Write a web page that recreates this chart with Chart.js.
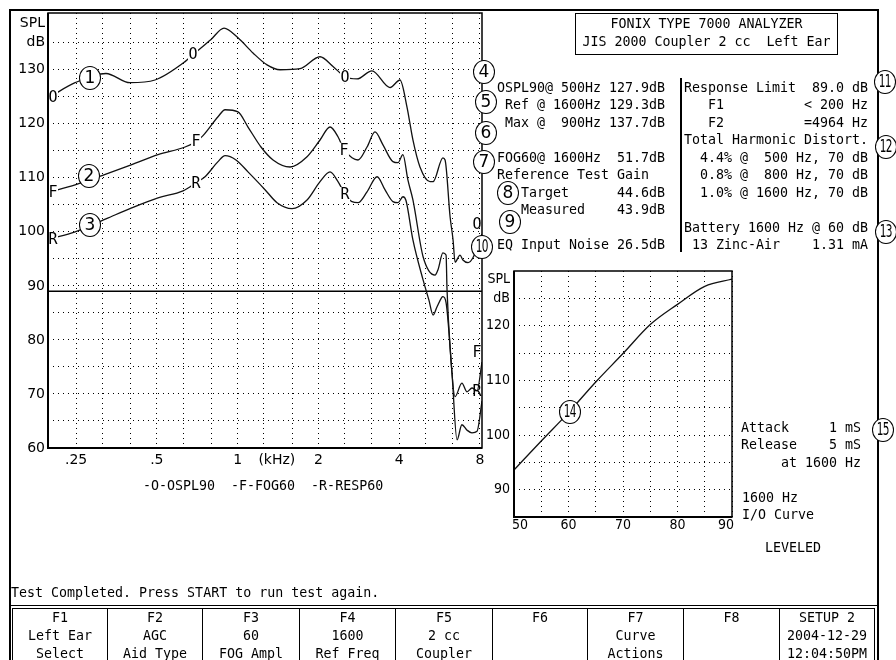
<!DOCTYPE html>
<html>
<head>
<meta charset="utf-8">
<script src="https://cdn.jsdelivr.net/npm/chart.js@4.4.1/dist/chart.umd.min.js"></script>
<style>
  body { margin: 0; width: 896px; height: 660px; overflow: hidden; background: #fff; position: relative; color: #000; }
  canvas { position: absolute; }
  .t { position: absolute; margin: 0; font: 13.3px/17.5px "DejaVu Sans Mono", monospace; white-space: pre; }
  .ln { position: absolute; background: #000; }
  .c { position: absolute; box-sizing: border-box; width: 22px; height: 24px; border: 1.4px solid #000; border-radius: 50%;
       background: #fff; text-align: center; font: 17px/21px "DejaVu Sans", sans-serif; }
  .c span { display: inline-block; }
  .c.two span { transform: scaleX(0.62); letter-spacing: -1px; }
  .key { position: absolute; top: 608px; height: 52px; box-sizing: border-box; border-left: 1.5px solid #000; border-top: 1.5px solid #000;
         text-align: center; font: 13.3px/18px "DejaVu Sans Mono", monospace; white-space: pre; }
</style>
</head>
<body>
<!-- outer frame and boxes -->
<div class="ln" style="left:9px;top:9px;width:870px;height:1.5px"></div>
<div class="ln" style="left:9px;top:9px;width:1.5px;height:651px"></div>
<div class="ln" style="left:877px;top:9px;width:1.5px;height:651px"></div>
<div class="ln" style="left:9px;top:605px;width:870px;height:1px"></div>
<div style="position:absolute;left:575px;top:13px;width:263px;height:42px;box-sizing:border-box;border:1.5px solid #000"></div>
<div class="ln" style="left:680px;top:78px;width:1.5px;height:174px"></div>

<canvas id="main" width="896" height="660" style="left:0;top:0"></canvas>
<canvas id="io" width="290" height="300" style="left:460px;top:250px"></canvas>

<pre class="t" style="left:575px;top:15px;width:263px;text-align:center">FONIX TYPE 7000 ANALYZER
JIS 2000 Coupler 2 cc  Left Ear</pre>

<pre class="t" style="left:497px;top:78.5px">OSPL90@ 500Hz 127.9dB
 Ref @ 1600Hz 129.3dB
 Max @  900Hz 137.7dB

FOG60@ 1600Hz  51.7dB
Reference Test Gain
   Target      44.6dB
   Measured    43.9dB

EQ Input Noise 26.5dB</pre>

<pre class="t" style="left:684px;top:78.5px">Response Limit  89.0 dB
   F1          &lt; 200 Hz
   F2          =4964 Hz
Total Harmonic Distort.
  4.4% @  500 Hz, 70 dB
  0.8% @  800 Hz, 70 dB
  1.0% @ 1600 Hz, 70 dB

Battery 1600 Hz @ 60 dB
 13 Zinc-Air    1.31 mA</pre>

<pre class="t" style="left:741px;top:418.5px">Attack     1 mS
Release    5 mS
     at 1600 Hz</pre>
<pre class="t" style="left:742px;top:488.5px">1600 Hz
I/O Curve</pre>
<pre class="t" style="left:765px;top:538.5px">LEVELED</pre>
<pre class="t" style="left:143px;top:476.5px">-O-OSPL90  -F-FOG60  -R-RESP60</pre>
<pre class="t" style="left:11px;top:583.5px">Test Completed. Press START to run test again.</pre>

<div id="keys"></div>
<div id="circles"></div>

<script>
// ---- frequency response (kHz, dB SPL) ----
const osplFreq = [0.2, 0.248, 0.323, 0.397, 0.492, 0.637, 0.682, 0.796, 0.89, 1.003, 1.141, 1.287, 1.439, 1.708, 2.028,
  2.267, 2.513, 2.785, 3.167, 3.697, 4.028, 4.277, 4.5, 4.78, 5.21, 5.35, 5.82, 5.93, 6.19, 6.35, 6.46, 6.74, 6.91, 7.22, 7.53, 8.14];
const osplDb = [125.0, 127.6, 129.3, 127.6, 128.1, 131.5, 132.8, 135.6, 137.7, 135.9, 133.1, 130.9, 130.0, 130.2, 132.4,
  130.6, 128.7, 128.3, 129.8, 126.7, 128.1, 123.1, 117.0, 112.0, 109.3, 109.3, 113.7, 113.3, 102.8, 98.5, 94.4, 95.7, 94.8, 94.3, 95.2, 99.6];
const osplMarks = [0.2, 0.682, 2.513, 8.14];

const fogFreq = [0.2, 0.248, 0.323, 0.401, 0.505, 0.637, 0.70, 0.743, 0.845, 0.898, 1.003, 1.093, 1.222, 1.355, 1.568,
  1.814, 2.028, 2.21, 2.366, 2.49, 2.668, 2.81, 3.035, 3.25, 3.48, 3.79, 3.96, 4.13, 4.31, 4.5, 4.91, 5.44, 5.58, 5.82, 5.98,
  6.03, 6.19, 6.46, 6.85, 7.16, 7.47, 7.8, 8.14];
const fogDb = [107.4, 108.7, 110.7, 112.4, 114.3, 115.7, 116.7, 117.8, 121.3, 122.6, 122.2, 119.4, 115.7, 113.3, 112.0,
  113.9, 117.0, 119.4, 117.6, 115.2, 113.7, 113.3, 115.7, 118.5, 116.1, 113.0, 112.8, 114.3, 109.6, 105.9, 95.4, 92.0, 93.0, 96.1, 95.7,
  89.3, 78.7, 69.5, 72.0, 70.4, 71.1, 70.6, 75.9];
const fogMarks = [0.2, 0.70, 2.49, 8.14];

const respFreq = [0.2, 0.248, 0.323, 0.401, 0.505, 0.626, 0.70, 0.756, 0.845, 0.898, 0.986, 1.093, 1.265, 1.402, 1.595,
  1.814, 2.028, 2.21, 2.366, 2.513, 2.668, 2.81, 3.035, 3.31, 3.54, 3.79, 3.96, 4.13, 4.24, 4.5, 4.91, 5.16, 5.35, 5.53, 5.75,
  5.82, 5.98, 6.29, 6.57, 6.85, 7.16, 7.47, 7.8, 8.14];
const respDb = [98.7, 100.0, 102.4, 104.4, 106.3, 107.6, 109.1, 110.2, 113.0, 114.1, 113.3, 111.1, 107.8, 105.4, 104.3,
  105.9, 109.3, 111.1, 109.3, 107.0, 105.6, 105.4, 107.4, 110.2, 107.8, 105.6, 105.4, 106.5, 105.8, 98.5, 91.1, 87.4, 84.6, 86.1, 87.8,
  88.0, 86.9, 73.9, 61.5, 64.3, 63.3, 62.8, 63.1, 68.7];
const respMarks = [0.2, 0.70, 2.513, 8.14];

const limitDb = 89.0;
const freqMin = 0.1965, freqMax = 8.14;
const freqGrid = [0.25, 0.315, 0.4, 0.5, 0.63, 0.8, 1, 1.25, 1.4, 1.6, 2, 2.5, 3.15, 4, 5, 6.3, 8];
const freqLabels = { 0.25: ".25", 0.5: ".5", 1: "1", 1.4: "(kHz)", 2: "2", 4: "4", 8: "8" };
const splTicks = [60, 65, 70, 75, 80, 85, 90, 95, 100, 105, 110, 115, 120, 125, 130, 135, 138.5];
const splLabels = { 60: "60", 70: "70", 80: "80", 90: "90", 100: "100", 110: "110", 120: "120", 130: "130", 135: "dB", 138.5: "SPL" };

// ---- I/O curve at 1600 Hz ----
const ioInput = [50, 55, 60, 65, 70, 75, 80, 85, 90];
const ioOutput = [93.6, 98.9, 104.1, 109.7, 114.9, 120.2, 123.9, 127.2, 128.5];
const ioXTicks = [50, 55, 60, 65, 70, 75, 80, 85, 90];
const ioXLabels = { 50: "   50", 60: "60", 70: "70", 80: "80", 90: "90   " };
const ioYTicks = [90, 95, 100, 105, 110, 115, 120, 125, 128.5];
const ioYLabels = { 90: "90", 100: "100", 110: "110", 120: "120", 125: "dB", 128.5: "SPL" };

const keyLabels = [
  ["F1", "Left Ear", "Select"], ["F2", "AGC", "Aid Type"], ["F3", "60", "FOG Ampl"], ["F4", "1600", "Ref Freq"],
  ["F5", "2 cc", "Coupler"], ["F6", "", ""], ["F7", "Curve", "Actions"], ["F8", "", ""], ["SETUP 2", "2004-12-29", "12:04:50PM"]
];
const keyEdges = [12, 107, 202, 299, 395, 492, 587, 683, 779, 875];

const circleSpots = [
  [1, 90, 78], [2, 89, 176], [3, 90, 225], [4, 484, 72], [5, 486, 102], [6, 486, 133], [7, 484, 162], [8, 508, 193],
  [9, 510, 222], [10, 482, 247], [11, 885, 82], [12, 886, 147], [13, 886, 232], [14, 570, 412], [15, 883, 430]
];

const hidden = "rgba(0,0,0,0)";
const ioFont = { family: '"Liberation Sans Narrow", "DejaVu Sans Condensed", "DejaVu Sans Mono"', size: 14 };
const toPts = (xs, ys) => xs.map((x, i) => ({ x: x, y: ys[i] }));

const framePlugin = {
  id: "frame",
  afterDraw(chart) {
    const { ctx, chartArea: a } = chart;
    ctx.save();
    ctx.strokeStyle = "#000";
    ctx.lineWidth = 1.5;
    ctx.strokeRect(a.left, a.top, a.right - a.left, a.bottom - a.top);
    ctx.lineWidth = 2;
    ctx.beginPath();
    ctx.moveTo(a.left, a.top);
    ctx.lineTo(a.left, a.bottom);
    ctx.lineTo(a.right, a.bottom);
    ctx.stroke();
    ctx.restore();
  }
};

// letters O / F / R written on the curves
const letterPlugin = {
  id: "letters",
  afterDatasetsDraw(chart) {
    const { ctx, chartArea: a } = chart;
    ctx.save();
    ctx.font = '15px "DejaVu Sans Mono"';
    ctx.textAlign = "center";
    ctx.textBaseline = "middle";
    chart.data.datasets.forEach((ds, i) => {
      if (!ds.letter) return;
      const pts = chart.getDatasetMeta(i).data;
      ds.marks.forEach((f) => {
        const k = ds.data.findIndex((p) => p.x === f);
        const pt = pts[k];
        let x = pt.x, y = pt.y;
        const last = k === ds.data.length - 1;
        if (k === 0) x = a.left + 5;
        if (last) { x = a.right - 5; y -= 10; }
        if (!last) {
          ctx.fillStyle = "#fff";
          ctx.fillRect(x - 5, y - 7, 10, 14);
        }
        ctx.fillStyle = "#000";
        ctx.fillText(ds.letter, x, y + 1);
      });
    });
    ctx.restore();
  }
};

const curve = (label, letter, xs, ys, marks) => ({
  label: label, letter: letter, marks: marks, data: toPts(xs, ys),
  borderColor: "#111", borderWidth: 1.3, pointRadius: 0, cubicInterpolationMode: "monotone", fill: false
});

new Chart(document.getElementById("main"), {
  type: "line",
  data: {
    datasets: [
      curve("OSPL90", "O", osplFreq, osplDb, osplMarks),
      curve("FOG60", "F", fogFreq, fogDb, fogMarks),
      curve("RESP60", "R", respFreq, respDb, respMarks),
      { label: "Limit", data: [{ x: freqMin, y: limitDb }, { x: freqMax, y: limitDb }],
        borderColor: "#000", borderWidth: 1.5, pointRadius: 0, fill: false }
    ]
  },
  options: {
    responsive: false,
    animation: false,
    devicePixelRatio: 1,
    layout: { padding: { left: 10, top: 13, right: 414, bottom: 188 } },
    plugins: { legend: { display: false }, tooltip: { enabled: false } },
    scales: {
      x: {
        type: "logarithmic", min: freqMin, max: freqMax,
        afterBuildTicks: (s) => { s.ticks = freqGrid.map((v) => ({ value: v })); },
        afterFit: (s) => { s.height = 24; },
        ticks: { autoSkip: false, maxRotation: 0, padding: 4, color: "#000",
          font: { family: "DejaVu Sans", size: 14 },
          callback: (v) => freqLabels[v] || "" },
        grid: { drawTicks: false, lineWidth: 1, color: (c) => (c.tick && c.tick.value === 1.4 ? hidden : "#000") },
        border: { display: false, dash: [1, 4] }
      },
      y: {
        min: 60, max: 140.5,
        afterBuildTicks: (s) => { s.ticks = splTicks.map((v) => ({ value: v })); },
        afterFit: (s) => { s.width = 38; },
        ticks: { autoSkip: false, padding: 3, color: "#000",
          font: { family: "DejaVu Sans", size: 14 },
          callback: (v) => splLabels[v] || "" },
        grid: { drawTicks: false, lineWidth: 1, color: (c) => (c.tick && c.tick.value === 138.5 ? hidden : "#000") },
        border: { display: false, dash: [1, 4] }
      }
    }
  },
  plugins: [framePlugin, letterPlugin]
});

new Chart(document.getElementById("io"), {
  type: "line",
  data: {
    datasets: [{ label: "I/O", data: toPts(ioInput, ioOutput), borderColor: "#111", borderWidth: 1.3,
      pointRadius: 0, cubicInterpolationMode: "monotone", fill: false }]
  },
  options: {
    responsive: false,
    animation: false,
    devicePixelRatio: 1,
    layout: { padding: { left: 14, top: 21, right: 18, bottom: 15 } },
    plugins: { legend: { display: false }, tooltip: { enabled: false } },
    scales: {
      x: {
        type: "linear", min: 50, max: 90,
        afterBuildTicks: (s) => { s.ticks = ioXTicks.map((v) => ({ value: v })); },
        afterFit: (s) => { s.height = 18; },
        ticks: { autoSkip: false, maxRotation: 0, padding: 0, color: "#000", font: ioFont,
          callback: (v) => ioXLabels[v] || "" },
        grid: { drawTicks: false, lineWidth: 1, color: "#000" },
        border: { display: false, dash: [1, 4] }
      },
      y: {
        min: 85, max: 130,
        afterBuildTicks: (s) => { s.ticks = ioYTicks.map((v) => ({ value: v })); },
        afterFit: (s) => { s.width = 40; },
        ticks: { autoSkip: false, padding: 4, color: "#000", font: ioFont,
          callback: (v) => ioYLabels[v] || "" },
        grid: { drawTicks: false, lineWidth: 1, color: (c) => (c.tick && c.tick.value === 128.5 ? hidden : "#000") },
        border: { display: false, dash: [1, 4] }
      }
    }
  },
  plugins: [framePlugin]
});

// function keys along the bottom
const keys = document.getElementById("keys");
keyLabels.forEach((lines, i) => {
  const d = document.createElement("div");
  d.className = "key";
  d.style.left = keyEdges[i] + "px";
  d.style.width = keyEdges[i + 1] - keyEdges[i] + "px";
  if (i === keyLabels.length - 1) d.style.borderRight = "1.5px solid #000";
  d.textContent = lines.join("\n");
  keys.appendChild(d);
});

// circled reference numbers
const circles = document.getElementById("circles");
circleSpots.forEach(([n, cx, cy]) => {
  const d = document.createElement("div");
  d.className = n > 9 ? "c two" : "c";
  d.style.left = cx - 11 + "px";
  d.style.top = cy - 12 + "px";
  const s = document.createElement("span");
  s.textContent = n;
  d.appendChild(s);
  circles.appendChild(d);
});
</script>
</body>
</html>
